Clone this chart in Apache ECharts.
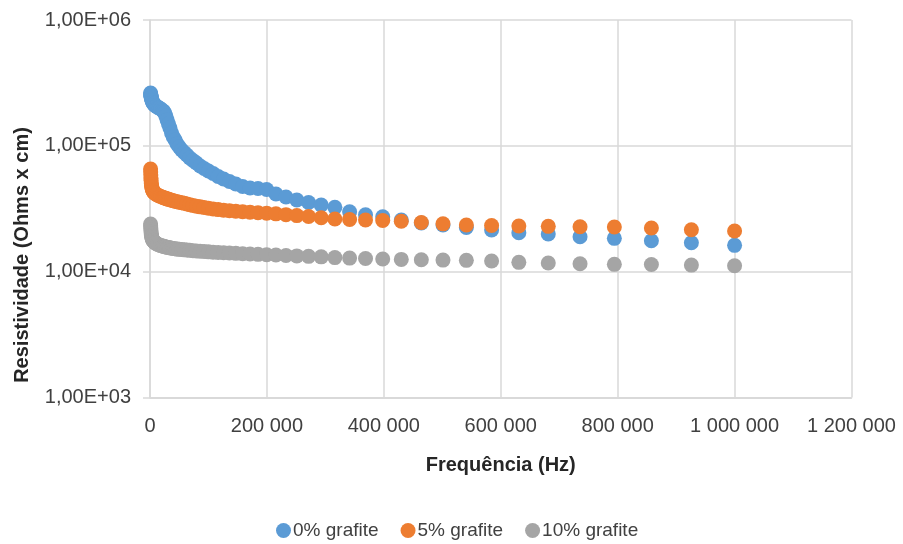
<!DOCTYPE html>
<html>
<head>
<meta charset="utf-8">
<title>Resistividade vs Frequência</title>
<script src="https://cdn.jsdelivr.net/npm/echarts@6/dist/echarts.min.js"></script>
<style>
  html, body { margin: 0; padding: 0; background: #ffffff; }
  #chart { width: 903px; height: 544px; }
</style>
</head>
<body>
<div id="chart"></div>
<script>
// Measurement frequencies (Hz)
const freqHz = [1000, 1166, 1359, 1585, 1848, 2154, 2512, 2929, 3415, 3981, 4642, 5412, 6310, 7356, 8577,
  10000, 11659, 13594, 15849, 18478, 21544, 23263, 25119, 27123, 29286, 31623, 34146, 36869, 39811,
  42987, 46416, 50119, 54117, 58434, 63096, 68129, 73564, 79433, 85770, 92612, 100000, 107978, 116591,
  125893, 135936, 146780, 158489, 171133, 184785, 199526, 215443, 232631, 251189, 271227, 292864,
  316228, 341455, 368695, 398107, 429866, 464159, 501187, 541170, 584341, 630957, 681292, 735642,
  794328, 857696, 926119, 1000000];

// Resistivity (Ohms x cm) for each composition
const grafite0 = [262800, 258000, 253300, 248800, 246500, 242000, 237700, 233300, 229100, 224900, 220900,
  218900, 214900, 213000, 209100, 207200, 205300, 201600, 199800, 196100, 190800,
  187400, 182300, 172500, 160400, 149100, 138500, 126400, 117500, 111200, 103300, 97800, 92600, 88450,
  84500, 79990, 76400, 73000, 69090, 66000, 63060, 60230, 57020, 54460, 52020, 49690, 47480, 46190,
  45770, 44940, 41380, 39170, 37080, 35420, 33830, 32440, 29940, 28330, 27310, 25720, 24340, 23470,
  22420, 21420, 20380, 19900, 18940, 18390, 17600, 16970, 16180];

const grafite5 = [65390, 61880, 58570, 55460, 52990, 50610, 48800, 47480, 46190, 44940, 44130, 43490,
  42930, 42380, 41920, 41380, 40930, 40480, 39900, 39540, 39030,
  38750, 38470, 38190, 37910, 37560, 37280, 36940, 36600, 36270, 35940, 35610, 35290, 34960,
  34460, 34020, 33580, 33160, 32730, 32320, 31910, 31500, 31150, 30820, 30530, 30250, 29980, 29720,
  29440, 29170, 28800, 28380, 27910, 27420, 26830, 26190,
  25950, 25720, 25480, 25160, 24570, 23990, 23470, 23260, 23040, 22910, 22750, 22620, 22210, 21530, 21020];

const grafite10 = [23900, 23040, 22210, 21410, 20640, 19900, 19360, 18910, 18500, 18160, 17830, 17600,
  17390, 17200, 17010, 16820, 16630, 16450, 16270, 16120, 15980,
  15890, 15800, 15720, 15630, 15550, 15460, 15380, 15290, 15210, 15120, 15040, 14990, 14910, 14850,
  14770, 14690, 14610, 14530, 14450, 14370, 14290, 14210, 14130, 14060, 13980, 13880, 13800, 13730,
  13620, 13550, 13450, 13350, 13230, 13110, 12940, 12820, 12710, 12620, 12520, 12430, 12360, 12300,
  12140, 11860, 11710, 11560, 11430, 11400, 11280, 11140];

const seriesNames = ['0% grafite', '5% grafite', '10% grafite'];
const seriesColors = ['#5b9bd5', '#ed7d31', '#a5a5a5'];

// Axis tick labels
const xTickLabels = ['0', '200 000', '400 000', '600 000', '800 000', '1 000 000', '1 200 000'];
const yTickLabels = ['1,00E+03', '1,00E+04', '1,00E+05', '1,00E+06'];

const xTitle = 'Frequência (Hz)';
const yTitle = 'Resistividade (Ohms x cm)';

const FONT = '"Liberation Sans", Arial, sans-serif';
const TEXT_COLOR = '#404040';
const GRID_COLOR = '#d9d9d9';

const chart = echarts.init(document.getElementById('chart'), null, { renderer: 'canvas' });

function pairs(values) {
  return freqHz.map((f, i) => [f, values[i]]);
}

const seriesValues = [grafite0, grafite5, grafite10];

chart.setOption({
  animation: false,
  backgroundColor: '#ffffff',
  textStyle: { fontFamily: FONT },
  grid: { left: 150, right: 51.5, top: 20, bottom: 146.5, containLabel: false },
  xAxis: {
    type: 'value',
    min: 0,
    max: 1200000,
    interval: 200000,
    name: xTitle,
    nameLocation: 'middle',
    nameGap: 58,
    nameTextStyle: { fontFamily: FONT, fontSize: 20, fontWeight: 'bold', color: '#262626' },
    axisLine: { show: true, lineStyle: { color: GRID_COLOR, width: 1.5 } },
    axisTick: { show: false },
    axisLabel: {
      margin: 19,
      fontFamily: FONT,
      fontSize: 20,
      color: TEXT_COLOR,
      formatter: v => xTickLabels[Math.round(v / 200000)]
    },
    splitLine: { show: true, lineStyle: { color: GRID_COLOR, width: 1.5 } }
  },
  yAxis: {
    type: 'log',
    logBase: 10,
    min: 1000,
    max: 1000000,
    splitNumber: 3,
    axisLine: { show: true, lineStyle: { color: GRID_COLOR, width: 1.5 } },
    axisTick: { show: true, length: 7, lineStyle: { color: GRID_COLOR, width: 1.5 } },
    axisLabel: {
      margin: 19,
      fontFamily: FONT,
      fontSize: 20,
      color: TEXT_COLOR,
      padding: [5, 0, 0, 0],
      formatter: v => yTickLabels[Math.round(Math.log10(v)) - 3]
    },
    splitLine: { show: true, lineStyle: { color: GRID_COLOR, width: 1.5 } },
    minorTick: { show: false },
    minorSplitLine: { show: false }
  },
  legend: {
    data: seriesNames,
    left: 271,
    top: 516,
    orient: 'horizontal',
    icon: 'circle',
    itemWidth: 15,
    itemHeight: 15,
    itemGap: 22,
    textStyle: { fontFamily: FONT, fontSize: 19, color: TEXT_COLOR, padding: [0, 0, 0, -3], lineHeight: 19 }
  },
  graphic: [{
    type: 'text',
    x: 22.5,
    y: 255,
    rotation: Math.PI / 2,
    silent: true,
    style: {
      text: yTitle,
      font: 'bold 20px ' + FONT,
      fill: '#262626',
      align: 'center',
      verticalAlign: 'middle'
    }
  }],
  series: seriesNames.map((name, i) => ({
    name: name,
    type: 'scatter',
    symbol: 'circle',
    symbolSize: 15,
    data: pairs(seriesValues[i]),
    itemStyle: { color: seriesColors[i], opacity: 1 },
    emphasis: { disabled: true },
    z: 2 + i
  }))
});
</script>
</body>
</html>
